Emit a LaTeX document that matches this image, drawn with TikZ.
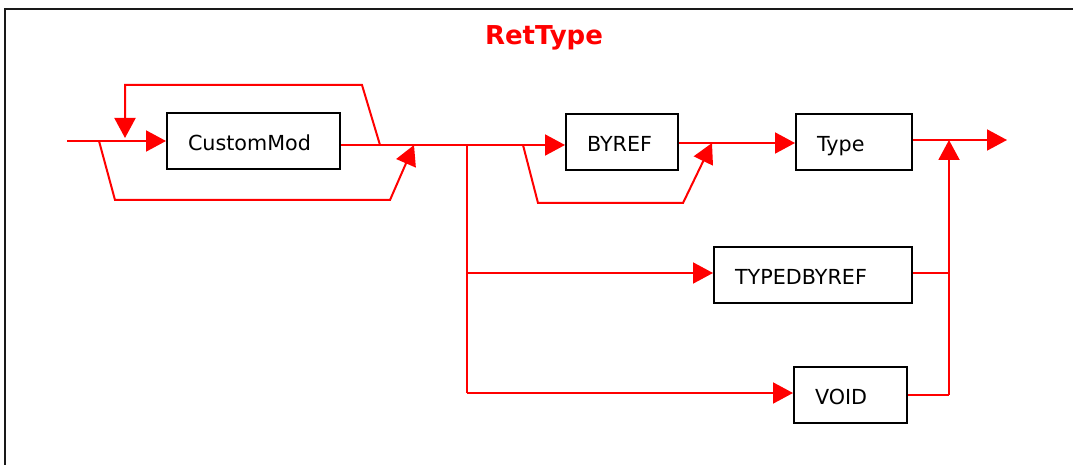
\documentclass[tikz,border=0pt]{standalone}
\usepackage{fontspec}
\usetikzlibrary{arrows.meta}
\newfontfamily\lab{DejaVu Sans}
\begin{document}
\begin{tikzpicture}[x=1pt,y=-1pt,
  flow/.style={draw=red, line width=2pt, line join=miter},
  tip/.style={-{Triangle[length=20pt,width=21pt]}},
  box/.style={draw=black, line width=2pt, rectangle, inner xsep=21pt, inner ysep=0pt,
              align=left, font=\lab\fontsize{20.7}{25}\selectfont, minimum height=56pt,
              text height=19pt, text depth=0pt},
  title/.style={text=red, font=\lab\bfseries\fontsize{26}{30}\selectfont}]
  \useasboundingbox (0,0) rectangle (1073,465);
  \clip (0,0) rectangle (1073,465);
  % outer frame
  \draw[line width=2.5pt, black!90] (5,480) -- (5,9) -- (1090,9);

  \node[title, anchor=base] (hdr) at (544,45) {RetType};

  % boxes
  \node[box, text width=131pt] (cm) at (253.5,141.5) {CustomMod};
  \node[box, text width=70pt]  (br) at (622,142) {BYREF};
  \node[box, text width=74pt]  (ty) at (854,142) {Type};
  \node[box, text width=156pt] (tb) at (813,275) {TYPEDBYREF};
  \node[box, text width=71pt]  (vd) at (850.5,395) {VOID};

  % junctions and bends
  \coordinate (in)    at (67,141);
  \coordinate (sp1)   at (99,141);
  \coordinate (lpend) at (125,138);
  \coordinate (lt1)   at (125,85);
  \coordinate (lt2)   at (362,85);
  \coordinate (j2)    at (380,145);
  \coordinate (b1)    at (115,200);
  \coordinate (b2)    at (390,200);
  \coordinate (j3)    at (414,145);
  \coordinate (sp2)   at (467,145);
  \coordinate (sp3)   at (523,145);
  \coordinate (c1)    at (538,203);
  \coordinate (c2)    at (683,203);
  \coordinate (j4)    at (712,143);
  \coordinate (sp4)   at (467,273);
  \coordinate (sp5)   at (467,393);
  \coordinate (m1)    at (949,140);
  \coordinate (m2)    at (949,273);
  \coordinate (m3)    at (949,395);
  \coordinate (out)   at (1007,140);

  % CustomMod repetition
  \draw[flow, tip] (in) -- (cm.west |- in);
  \draw[flow, tip] (j2) -- (lt2) -- (lt1) -- (lpend);
  \draw[flow, tip] (sp1) -- (b1) -- (b2) -- (j3);

  % main line to BYREF
  \draw[flow, tip] (cm.east |- j2) -- (br.west |- j2);
  \draw[flow, tip] (sp3) -- (c1) -- (c2) -- (j4);
  \draw[flow, tip] (br.east |- j4) -- (ty.west |- j4);
  \draw[flow, tip] (ty.east |- out) -- (out);

  % alternative branches
  \draw[flow] (sp2) -- (sp5);
  \draw[flow, tip] (sp4) -- (tb.west |- sp4);
  \draw[flow, tip] (sp5) -- (vd.west |- sp5);
  \draw[flow] (tb.east |- m2) -- (m2);
  \draw[flow] (vd.east |- m3) -- (m3);
  \draw[flow, tip] (m3) -- (m1);
\end{tikzpicture}
\end{document}
